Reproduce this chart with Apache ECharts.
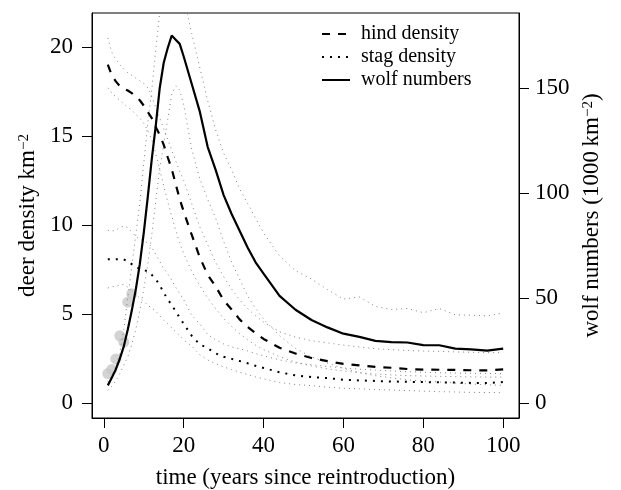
<!DOCTYPE html>
<html>
<head>
<meta charset="utf-8">
<script src="https://cdn.jsdelivr.net/npm/echarts@6/dist/echarts.min.js"></script>
<style>
  html, body { margin: 0; padding: 0; background: #fff; }
  #chart { width: 621px; height: 490px; }
</style>
</head>
<body>
<div id="chart"></div>
<script>
// years since reintroduction
const years = [1, 2, 3, 4, 5, 6, 7, 8, 9, 10, 11, 12, 13, 14, 15, 16, 17, 18, 19, 20,
  22, 24, 26, 28, 30, 32, 34, 36, 38, 40, 44, 48, 52, 56, 60, 64, 68, 72, 76, 80, 84, 88, 92, 96, 100];

// deer density km^-2 (left axis)
const hind = [19.0, 18.4, 18.06, 17.8, 17.65, 17.55, 17.4, 17.2, 17.0, 16.7, 16.35, 16.0, 15.5, 15.05, 14.5, 13.8, 13.15, 12.3, 11.45, 10.75,
  9.45, 8.2, 7.2, 6.55, 5.77, 5.25, 4.7, 4.27, 3.93, 3.6, 3.1, 2.78, 2.53, 2.35, 2.2, 2.12, 2.03, 1.98, 1.91, 1.88, 1.87, 1.86, 1.84, 1.83, 1.89];
const hindHi = [20.5, 19.7, 19.3, 19.0, 18.75, 18.55, 18.4, 18.25, 18.1, 17.95, 17.7, 17.2, 16.6, 16.0, 15.4, 14.8, 14.2, 13.6, 13.0, 12.5,
  11.2, 9.9, 8.9, 7.9, 7.1, 6.4, 5.8, 5.3, 4.9, 4.55, 4.0, 3.7, 3.5, 3.38, 3.25, 3.15, 3.05, 3.0, 2.95, 2.92, 2.9, 2.87, 2.85, 2.83, 2.83];
const hindLo = [17.7, 17.4, 17.2, 17.0, 16.8, 16.6, 16.45, 16.2, 16.0, 15.7, 15.3, 14.8, 14.0, 13.1, 12.2, 11.3, 10.5, 9.7, 9.0, 8.4,
  7.4, 6.6, 5.9, 5.3, 4.75, 4.3, 3.9, 3.55, 3.25, 3.0, 2.6, 2.3, 2.08, 1.92, 1.8, 1.7, 1.63, 1.58, 1.54, 1.52, 1.5, 1.48, 1.47, 1.46, 1.46];
const stag = [8.07, 8.07, 8.07, 8.07, 8.07, 7.95, 7.8, 7.65, 7.52, 7.47, 7.4, 7.2, 6.95, 6.62, 6.2, 5.83, 5.5, 5.15, 4.78, 4.45,
  3.78, 3.3, 3.08, 2.79, 2.6, 2.48, 2.36, 2.23, 2.09, 1.97, 1.73, 1.55, 1.46, 1.4, 1.31, 1.27, 1.24, 1.21, 1.19, 1.18, 1.16, 1.15, 1.13, 1.12, 1.18];
const stagHi = [9.7, 9.66, 9.7, 9.85, 9.94, 9.85, 9.6, 9.35, 9.2, 9.1, 9.0, 8.75, 8.35, 7.95, 7.55, 7.25, 6.9, 6.5, 6.15, 5.8,
  4.93, 4.45, 3.85, 3.55, 3.32, 3.15, 3.05, 2.93, 2.78, 2.65, 2.42, 2.25, 2.15, 2.05, 1.97, 1.9, 1.85, 1.8, 1.76, 1.73, 1.7, 1.68, 1.67, 1.66, 1.65];
const stagLo = [6.46, 6.52, 6.57, 6.62, 6.67, 6.5, 6.3, 6.1, 5.9, 5.72, 5.49, 5.33, 5.17, 4.9, 4.65, 4.45, 4.22, 4.0, 3.78, 3.55,
  3.2, 2.72, 2.42, 2.21, 2.03, 1.88, 1.73, 1.6, 1.47, 1.36, 1.15, 1.04, 0.98, 0.89, 0.83, 0.8, 0.76, 0.73, 0.7, 0.67, 0.64, 0.62, 0.6, 0.59, 0.58];

// wolf numbers per 1000 km^-2 (right axis)
const wolf = [8.4, 12, 16, 21, 27, 35, 44, 54, 66, 81, 98, 116, 132, 150, 162, 169, 175, 173, 171, 165,
  152, 139, 122, 111, 99, 90, 82, 74, 67, 61.6, 51, 44.4, 39.5, 36, 33, 31.5, 29.6, 29, 28.8, 27.6, 27.5, 25.9, 25.5, 24.9, 25.9];
const wolfHi = [10, 13, 17, 24, 35, 50, 65, 80, 95, 114, 133, 149, 168, 186, 197, 205, 211, 212, 203, 193,
  176, 160, 144, 130, 119, 111, 102, 95, 88, 81, 70, 63, 59, 54, 49.5, 50.5, 46, 44.5, 45, 43, 45, 42, 41.8, 41.5, 42.9];
const wolfLo = [6, 8, 10.5, 14, 18, 22, 28, 35, 44, 54, 66, 80, 96, 112, 123, 135, 147, 151, 149, 142,
  121, 107, 97, 88, 77, 67, 59, 51, 45, 40, 32, 26, 22, 19, 16.5, 14.5, 13, 12, 11, 10.5, 10, 9.5, 9, 8.7, 8.4];

// observed wolf counts (grey points)
const obsYears = [1, 2, 3, 4, 5, 6, 7];
const obsWolf = [14, 16, 21, 32, 29, 48, 52];

const xTicks = [0, 20, 40, 60, 80, 100];
const deerTicks = [0, 5, 10, 15, 20];
const wolfTicks = [0, 50, 100, 150];

function pairs(xs, ys) {
  return xs.map((x, i) => [x, ys[i]]);
}

const font = "'Liberation Serif', 'DejaVu Serif', serif";
const grey = { color: '#808080', width: 1, type: [1, 4] };

const myChart = echarts.init(document.getElementById('chart'));
myChart.setOption({
  animation: false,
  textStyle: { fontFamily: font, color: '#000' },
  grid: {
    left: 92, right: 102, top: 13, bottom: 72,
    outerBoundsMode: 'none',
    show: true, borderColor: '#000', borderWidth: 1, backgroundColor: 'transparent'
  },
  legend: {
    orient: 'vertical',
    left: 316, top: 19,
    itemWidth: 28, itemHeight: 14, itemGap: 3,
    itemStyle: { opacity: 0 },
    data: ['hind density', 'stag density', 'wolf numbers'],
    textStyle: { fontFamily: font, fontSize: 20, color: '#000', padding: [0, 0, 0, 6] },
    selectedMode: false
  },
  xAxis: {
    type: 'value', min: -2.96, max: 103.96,
    name: 'time (years since reintroduction)',
    nameLocation: 'middle', nameGap: 48,
    nameTextStyle: { fontFamily: font, fontSize: 23, color: '#000' },
    axisLine: { show: true, onZero: false, lineStyle: { color: '#000', width: 1 } },
    axisTick: { show: true, length: 10, lineStyle: { color: '#000' }, customValues: xTicks },
    axisLabel: { margin: 16, fontFamily: font, fontSize: 23, color: '#000', customValues: xTicks },
    splitLine: { show: false }
  },
  yAxis: [
    {
      type: 'value', min: -0.84, max: 21.9, position: 'left',
      name: 'deer density km{sup|−2}',
      nameLocation: 'middle', nameGap: 51,
      nameTextStyle: {
        fontFamily: font, fontSize: 23, color: '#000',
        rich: { sup: { fontFamily: font, fontSize: 15, verticalAlign: 'top', color: '#000' } }
      },
      axisLine: { show: true, onZero: false, lineStyle: { color: '#000', width: 1 } },
      axisTick: { show: true, length: 10, lineStyle: { color: '#000' }, customValues: deerTicks },
      axisLabel: { margin: 19, fontFamily: font, fontSize: 23, color: '#000', customValues: deerTicks },
      splitLine: { show: false }
    },
    {
      type: 'value', min: -7.14, max: 185.7, position: 'right',
      name: 'wolf numbers (1000\u2009km{sup|−2})',
      nameLocation: 'middle', nameGap: 58,
      nameTextStyle: {
        fontFamily: font, fontSize: 23, color: '#000',
        rich: { sup: { fontFamily: font, fontSize: 15, verticalAlign: 'top', color: '#000' } }
      },
      axisLine: { show: true, onZero: false, lineStyle: { color: '#000', width: 1 } },
      axisTick: { show: true, length: 10, lineStyle: { color: '#000' }, customValues: wolfTicks },
      axisLabel: { margin: 16, fontFamily: font, fontSize: 23, color: '#000', customValues: wolfTicks },
      splitLine: { show: false }
    }
  ],
  series: [
    {
      name: 'observed', type: 'scatter', yAxisIndex: 1, z: 1,
      data: pairs(obsYears, obsWolf), symbolSize: 11,
      itemStyle: { color: '#c8c8c8' }
    },
    { name: 'hind upper', type: 'line', yAxisIndex: 0, showSymbol: false, symbol: 'none', lineStyle: grey, data: pairs(years, hindHi), z: 2 },
    { name: 'hind lower', type: 'line', yAxisIndex: 0, showSymbol: false, symbol: 'none', lineStyle: grey, data: pairs(years, hindLo), z: 2 },
    { name: 'stag upper', type: 'line', yAxisIndex: 0, showSymbol: false, symbol: 'none', lineStyle: grey, data: pairs(years, stagHi), z: 2 },
    { name: 'stag lower', type: 'line', yAxisIndex: 0, showSymbol: false, symbol: 'none', lineStyle: grey, data: pairs(years, stagLo), z: 2 },
    { name: 'wolf upper', type: 'line', yAxisIndex: 1, showSymbol: false, symbol: 'none', lineStyle: grey, data: pairs(years, wolfHi), z: 2 },
    { name: 'wolf lower', type: 'line', yAxisIndex: 1, showSymbol: false, symbol: 'none', lineStyle: grey, data: pairs(years, wolfLo), z: 2 },
    {
      name: 'hind density', type: 'line', yAxisIndex: 0, symbol: 'none', z: 3,
      itemStyle: { color: '#000' },
      lineStyle: { color: '#000', width: 2.2, type: [8, 8] },
      data: pairs(years, hind)
    },
    {
      name: 'stag density', type: 'line', yAxisIndex: 0, symbol: 'none', z: 3,
      itemStyle: { color: '#000' },
      lineStyle: { color: '#000', width: 2, type: [2, 6] },
      data: pairs(years, stag)
    },
    {
      name: 'wolf numbers', type: 'line', yAxisIndex: 1, symbol: 'none', z: 3,
      itemStyle: { color: '#000' },
      lineStyle: { color: '#000', width: 2.2 },
      data: pairs(years, wolf)
    }
  ]
});
window.addEventListener('resize', function () {
  myChart.resize();
});
</script>
</body>
</html>
